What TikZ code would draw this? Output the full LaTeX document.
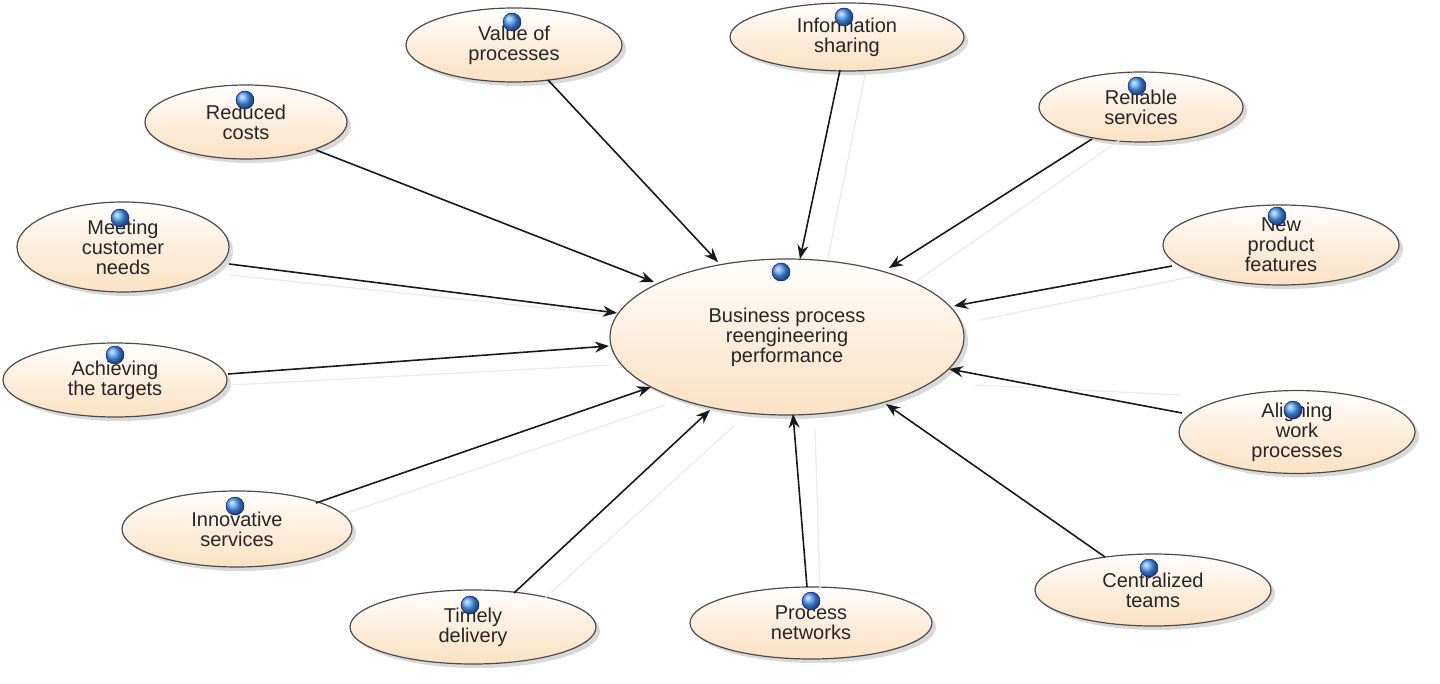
\documentclass[tikz,border=0pt]{standalone}
\usepackage{fontspec}
\setmainfont{Liberation Sans}
\usetikzlibrary{shapes.geometric,arrows.meta,shadows}
\definecolor{peach}{RGB}{254,238,220}
\definecolor{peachd}{RGB}{250,225,196}
\tikzset{
  el/.style={ellipse,draw=black!70,line width=1.2pt,top color=white,bottom color=peachd,middle color=peach,
    drop shadow={shadow xshift=4pt,shadow yshift=-4pt,fill=black!25,opacity=0.6},
    inner sep=0pt,align=center,font=\fontsize{20}{20}\selectfont,text=black!85},
  ar/.style={-{Stealth[length=14pt,width=11pt]},line width=1.6pt,black!90},
  gh/.style={line width=1.2pt,black!8},
  dot/.style={circle,minimum size=18pt,inner sep=0pt,ball color=cyan!45!blue!70,draw=blue!50!black,line width=0.4pt}
}
\begin{document}
\begin{tikzpicture}[x=1pt,y=-1pt]
\useasboundingbox (0,0) rectangle (1440,684);
\node[el,minimum width=354pt,minimum height=156pt] (c) at (787,337) {Business process\\reengineering\\performance};
\node[el,minimum width=216pt,minimum height=74pt] (v) at (514,45) {Value of\\processes};
\node[el,minimum width=234pt,minimum height=68pt] (i) at (847,37) {Information\\sharing};
\node[el,minimum width=204pt,minimum height=70pt] (r) at (1141,107) {Reliable\\services};
\node[el,minimum width=236pt,minimum height=80pt] (n) at (1281,245) {New\\product\\features};
\node[el,minimum width=236pt,minimum height=76pt] (a) at (1297,432) {Aligning\\work\\processes};
\node[el,minimum width=236pt,minimum height=72pt] (ct) at (1153,590) {Centralized\\teams};
\node[el,minimum width=242pt,minimum height=72pt] (p) at (811,623) {Process\\networks};
\node[el,minimum width=246pt,minimum height=74pt] (t) at (473,627) {Timely\\delivery};
\node[el,minimum width=230pt,minimum height=76pt] (is) at (237,529) {Innovative\\services};
\node[el,minimum width=224pt,minimum height=74pt] (at) at (115,380) {Achieving\\the targets};
\node[el,minimum width=212pt,minimum height=90pt] (m) at (123,247) {Meeting\\customer\\needs};
\node[el,minimum width=202pt,minimum height=74pt] (rc) at (246,122) {Reduced\\costs};
\foreach \n/\dx/\dy in {c/-6/-65,v/-2/-23,i/-3/-20,r/-4/-21,n/-4/-29,a/-4/-22,ct/-4/-22,p/0/-22,t/-3/-22,is/-2/-23,at/0/-25,m/-3/-29,rc/-1/-22}
  \node[dot] at ([xshift=\dx pt,yshift=-\dy pt]\n.center) {};
\draw[gh] (865,75) -- (828,258);
\draw[gh] (1120,140) -- (915,282);
\draw[gh] (1200,275) -- (980,320);
\draw[gh] (1180,395) -- (975,385);
\draw[gh] (820,590) -- (815,428);
\draw[gh] (545,598) -- (735,425);
\draw[gh] (350,512) -- (665,405);
\draw[gh] (230,385) -- (610,365);
\draw[gh] (230,275) -- (612,315);
\draw[ar] (548,80) -- (718,262);
\draw[ar] (840,70) -- (800,259);
\draw[ar] (1092,139) -- (889,268);
\draw[ar] (1172,266) -- (954,306);
\draw[ar] (1182,413) -- (949,369);
\draw[ar] (1105,557) -- (886,404);
\draw[ar] (807,587) -- (793,414);
\draw[ar] (514,593) -- (710,410);
\draw[ar] (316,503) -- (651,387);
\draw[ar] (228,374) -- (609,346);
\draw[ar] (229,264) -- (617,313);
\draw[ar] (316,150) -- (654,282);
\end{tikzpicture}
\end{document}
